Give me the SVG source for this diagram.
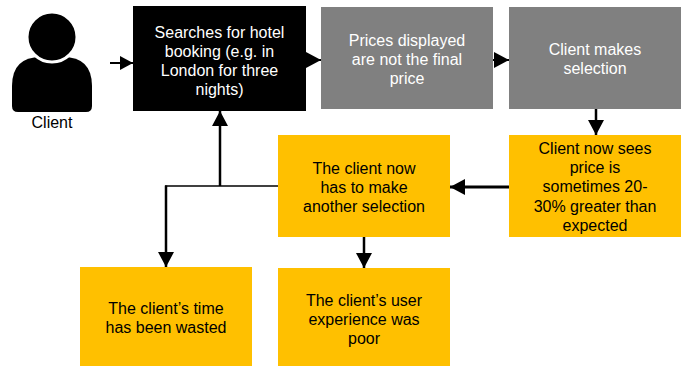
<svg xmlns="http://www.w3.org/2000/svg" width="686" height="366" viewBox="0 0 686 366">
<style>
  text { font-family: "Liberation Sans", Arial, sans-serif; font-size: 16px; text-anchor: middle; }
  .wt { fill: #ffffff; }
  .bt { fill: #000000; }
  .yellow { fill: #FFC000; }
  .gray { fill: #808080; }
  .black { fill: #000000; }
  .conn { fill: none; stroke: #000000; }
</style>
<defs>
  <marker id="ah" markerUnits="userSpaceOnUse" markerWidth="16" markerHeight="16" refX="15" refY="8" orient="auto">
    <path d="M0,0 L15,8 L0,16 Z" fill="#000000"/>
  </marker>
  <marker id="ahs" markerUnits="userSpaceOnUse" markerWidth="14" markerHeight="14" refX="13" refY="7" orient="auto">
    <path d="M0,0 L13,7 L0,14 Z" fill="#000000"/>
  </marker>
</defs>

<g id="client">
  <path class="black" d="M12,106 Q12,112 18,112 L86,112 Q92,112 92,106 L92,86 Q92,57 63,57 L41,57 Q12,57 12,86 Z"/>
  <circle cx="52" cy="37" r="25" fill="#000000" stroke="#ffffff" stroke-width="3"/>
  <text x="52" y="128" class="bt">Client</text>
</g>

<g id="search">
  <rect x="133" y="6" width="173" height="105" class="black"/>
  <text class="wt"><tspan x="219.5" y="37.5">Searches for hotel</tspan><tspan x="219.5" y="56.5">booking (e.g. in</tspan><tspan x="219.5" y="75.5">London for three</tspan><tspan x="219.5" y="94.5">nights)</tspan></text>
</g>

<g id="prices">
  <rect x="321" y="7" width="172" height="102" class="gray"/>
  <text class="wt"><tspan x="407" y="46">Prices displayed</tspan><tspan x="407" y="65">are not the final</tspan><tspan x="407" y="84">price</tspan></text>
</g>

<g id="selection">
  <rect x="509" y="7" width="172" height="102" class="gray"/>
  <text class="wt"><tspan x="595" y="55">Client makes</tspan><tspan x="595" y="74">selection</tspan></text>
</g>

<g id="sees">
  <rect x="509" y="135" width="172" height="102" class="yellow"/>
  <text class="bt"><tspan x="595" y="154">Client now sees</tspan><tspan x="595" y="173.2">price is</tspan><tspan x="595" y="192.4">sometimes 20-</tspan><tspan x="595" y="211.6">30% greater than</tspan><tspan x="595" y="230.8">expected</tspan></text>
</g>

<g id="another">
  <rect x="278" y="135" width="172" height="102" class="yellow"/>
  <text class="bt"><tspan x="364" y="174">The client now</tspan><tspan x="364" y="193">has to make</tspan><tspan x="364" y="212">another selection</tspan></text>
</g>

<g id="wasted">
  <rect x="80" y="267" width="172" height="102" class="yellow"/>
  <text class="bt"><tspan x="166" y="314">The client’s time</tspan><tspan x="166" y="333">has been wasted</tspan></text>
</g>

<g id="poor">
  <rect x="278" y="268" width="172" height="102" class="yellow"/>
  <text class="bt"><tspan x="364" y="306">The client’s user</tspan><tspan x="364" y="325">experience was</tspan><tspan x="364" y="344">poor</tspan></text>
</g>

<g id="connectors">
  <path class="conn" stroke-width="2" d="M110,63 L133,63" marker-end="url(#ahs)"/>
  <path class="conn" stroke-width="2" d="M306,60 L321,60" marker-end="url(#ah)"/>
  <path class="conn" stroke-width="2" d="M493,60 L509,60" marker-end="url(#ah)"/>
  <path class="conn" stroke-width="2.5" d="M596,109 L596,135" marker-end="url(#ah)"/>
  <path class="conn" stroke-width="3" d="M509,187 L450,187" marker-end="url(#ah)"/>
  <path class="conn" stroke-width="2.5" d="M364,237 L364,268" marker-end="url(#ah)"/>
  <path class="conn" stroke-width="1.5" d="M278,186 L165,186"/>
  <path class="conn" stroke-width="2.5" d="M220,186 L220,111" marker-end="url(#ah)"/>
  <path class="conn" stroke-width="2.5" d="M166,185.5 L166,267" marker-end="url(#ah)"/>
</g>
</svg>
